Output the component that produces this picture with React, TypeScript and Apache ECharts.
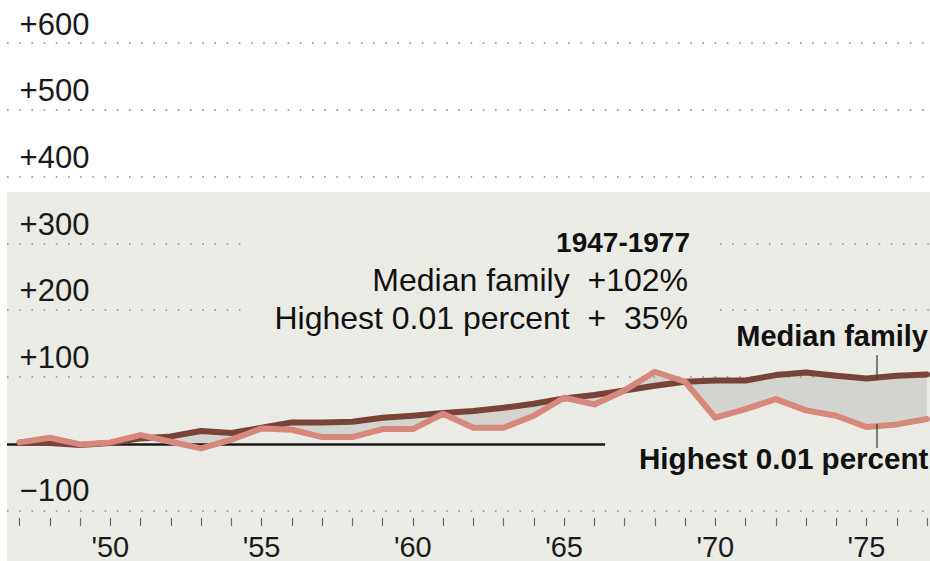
import React, { useEffect, useRef } from "react";
import * as echarts from "echarts";

const years: number[] = [
  1947, 1948, 1949, 1950, 1951, 1952, 1953, 1954, 1955, 1956, 1957, 1958, 1959, 1960, 1961,
  1962, 1963, 1964, 1965, 1966, 1967, 1968, 1969, 1970, 1971, 1972, 1973, 1974, 1975, 1976, 1977,
];
const medianFamily: number[] = [
  0, -1, -4, -1, 6, 9, 17, 14, 22, 30, 30, 31, 37, 40, 44,
  47, 52, 58, 66, 71, 78, 85, 91, 93, 93, 101, 105, 100, 96, 100, 102,
];
const highest001: number[] = [
  0, 7, -3, 0, 11, 1, -9, 4, 21, 19, 8, 8, 20, 20, 43,
  22, 22, 40, 67, 57, 78, 106, 91, 37, 50, 65, 48, 40, 23, 27, 35,
];
const yTicks = { min: -100, max: 600, step: 100 };
const xRange = { min: 1947, max: 1977, step: 1 };
const summaryTitle = "1947-1977";
const summaryLines = ["Median family\u00a0\u00a0+102%", "Highest 0.01 percent\u00a0\u00a0+\u00a0\u00a035%"];
const seriesLabels = ["Median family", "Highest 0.01 percent"];

const FONT = "'Liberation Sans', Arial, Helvetica, sans-serif";
const BROWN = "#7a4339";
const SALMON = "#d6887b";
const FILL = "#d3d3cf";
const BG = "#ebebe6";
const DOT = "#8a8a8a";

export default function App() {
  const ref = useRef<HTMLDivElement>(null);
  useEffect(() => {
    if (!ref.current) return;
    const chart = echarts.init(ref.current, undefined, { renderer: "svg" });

    const pairsM = years.map((y, i) => [y, medianFamily[i]]);
    const pairsT = years.map((y, i) => [y, highest001[i]]);

    const dotted = { color: DOT, width: 1.6, type: [1.6, 10.6] as any };
    const fullRows = [600, 500, 400, 100, -100];
    const partialRows = [300, 200];
    const markData: any[] = [];
    fullRows.forEach((v) =>
      markData.push([{ coord: [0, v], lineStyle: dotted }, { coord: [1, v] }])
    );
    partialRows.forEach((v) => {
      markData.push([{ coord: [0, v], lineStyle: dotted }, { coord: [0.258, v] }]);
      markData.push([{ coord: [0.7725, v], lineStyle: dotted }, { coord: [1, v] }]);
    });
    markData.push([
      { coord: [0, 0], lineStyle: { color: "#1a1a1a", width: 2.5, type: "solid" } },
      { coord: [0.648, 0] },
    ]);

    const option: any = {
      animation: false,
      backgroundColor: "#ffffff",
      textStyle: { fontFamily: FONT },
      grid: [
        { left: 19.6, top: 42.7, width: 933.6, bottom: 50.3 },
        { left: 7, top: 42.7, right: 0, bottom: 50.3 },
      ],
      xAxis: [
        {
          type: "value",
          gridIndex: 0,
          min: xRange.min,
          max: xRange.max,
          interval: xRange.step,
          offset: 9,
          axisLine: { show: true, onZero: false, lineStyle: { color: "rgba(0,0,0,0)", width: 0 } },
          axisTick: { show: true, length: 8, lineStyle: { color: "#666", width: 1.2 } },
          splitLine: { show: false },
          axisLabel: {
            margin: 14,
            fontSize: 29,
            color: "#1a1a1a",
            fontFamily: FONT,
            formatter: (v: number) => (v % 5 === 0 ? "'" + String(v % 100).padStart(2, "0") : ""),
          },
        },
        { type: "value", gridIndex: 1, min: 0, max: 1, show: false },
      ],
      yAxis: [
        {
          type: "value",
          gridIndex: 0,
          min: yTicks.min,
          max: yTicks.max,
          interval: yTicks.step,
          axisLine: { show: false },
          axisTick: { show: false },
          splitLine: { show: false },
          axisLabel: {
            inside: true,
            margin: 0,
            fontSize: 31,
            lineHeight: 31,
            color: "#1a1a1a",
            fontFamily: FONT,
            verticalAlign: "bottom",
            padding: [0, 0, 3, 0],
            formatter: (v: number) => (v > 0 ? "+" + v : v < 0 ? "\u2212" + Math.abs(v) : ""),
          },
        },
        {
          type: "value",
          gridIndex: 1,
          min: yTicks.min,
          max: yTicks.max,
          interval: yTicks.step,
          show: false,
        },
      ],
      graphic: [
        {
          type: "rect",
          z: -10,
          shape: { x: 7, y: 192, width: 930, height: 380 },
          style: { fill: BG },
          silent: true,
        },
        {
          type: "text",
          z: 100,
          x: 690,
          y: 242,
          style: { text: summaryTitle, font: `bold 28px ${FONT}`, fill: "#111", textAlign: "right", textVerticalAlign: "middle" },
        },
        {
          type: "text",
          z: 100,
          x: 688,
          y: 280,
          style: { text: summaryLines[0], font: `32px ${FONT}`, fill: "#111", textAlign: "right", textVerticalAlign: "middle" },
        },
        {
          type: "text",
          z: 100,
          x: 688,
          y: 318,
          style: { text: summaryLines[1], font: `32px ${FONT}`, fill: "#111", textAlign: "right", textVerticalAlign: "middle" },
        },
        {
          type: "text",
          z: 100,
          x: 928,
          y: 336,
          style: { text: seriesLabels[0], font: `bold 29px ${FONT}`, fill: "#111", textAlign: "right", textVerticalAlign: "middle" },
        },
        {
          type: "text",
          z: 100,
          x: 639,
          y: 458,
          style: { text: seriesLabels[1], font: `bold 29.6px ${FONT}`, fill: "#111", textAlign: "left", textVerticalAlign: "middle" },
        },
        {
          type: "line",
          z: 100,
          shape: { x1: 877, y1: 355, x2: 877, y2: 379 },
          style: { stroke: "#333", lineWidth: 1.2 },
        },
        {
          type: "line",
          z: 100,
          shape: { x1: 877, y1: 424, x2: 877, y2: 448 },
          style: { stroke: "#333", lineWidth: 1.2 },
        },
      ],
      series: [
        {
          type: "custom",
          xAxisIndex: 0,
          yAxisIndex: 0,
          data: [[years[0], medianFamily[0]]],
          silent: true,
          clip: true,
          z: 1,
          renderItem: (params: any, api: any) => {
            if (params.dataIndex !== 0) return null;
            const upper = years.map((y, i) => api.coord([y, medianFamily[i]]));
            const lower = years.map((y, i) => api.coord([y, highest001[i]])).reverse();
            return {
              type: "polygon",
              shape: { points: upper.concat(lower) },
              style: { fill: FILL },
            };
          },
        },
        {
          type: "line",
          xAxisIndex: 1,
          yAxisIndex: 1,
          data: [],
          silent: true,
          z: 3,
          markLine: {
            silent: true,
            symbol: "none",
            label: { show: false },
            emphasis: { disabled: true },
            data: markData,
          },
        },
        {
          type: "line",
          name: seriesLabels[0],
          xAxisIndex: 0,
          yAxisIndex: 0,
          data: pairsM,
          symbol: "none",
          z: 5,
          lineStyle: { color: BROWN, width: 6, join: "round", cap: "round" },
        },
        {
          type: "line",
          name: seriesLabels[1],
          xAxisIndex: 0,
          yAxisIndex: 0,
          data: pairsT,
          symbol: "none",
          z: 6,
          lineStyle: { color: SALMON, width: 6, join: "round", cap: "round" },
        },
      ],
    };
    chart.setOption(option);
    return () => chart.dispose();
  }, []);

  return (
    <div
      ref={ref}
      style={{ position: "fixed", left: 0, top: 0, width: 930, height: 561, background: "#fff" }}
    />
  );
}
